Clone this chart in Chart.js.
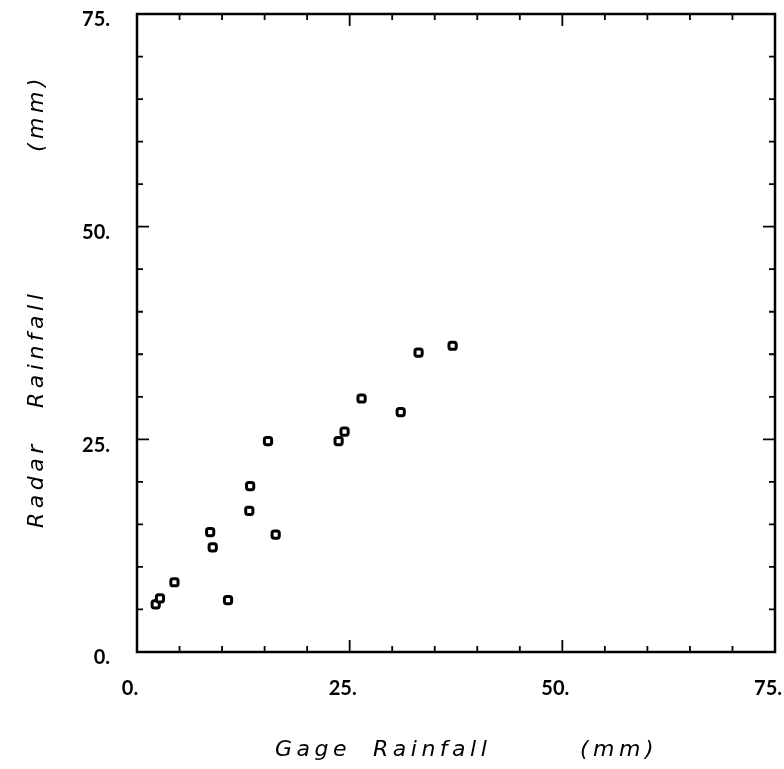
<!DOCTYPE html>
<html>
<head>
<meta charset="utf-8">
<script src="https://cdn.jsdelivr.net/npm/chart.js@4"></script>
<style>
  html, body { margin: 0; padding: 0; background: #fff; }
  #wrap { width: 784px; height: 769px; }
</style>
</head>
<body>
<div id="wrap"><canvas id="chart" width="784" height="769"></canvas></div>
<script>
// 雨量计 vs 雷达 降雨量
const gageRain = [2.2, 2.7, 4.4, 8.6, 8.9, 10.7, 13.2, 13.3, 15.4, 16.3, 23.7, 24.4, 26.4, 31.0, 33.1, 37.1];
const radarRain = [5.6, 6.3, 8.2, 14.1, 12.3, 6.1, 16.6, 19.5, 24.8, 13.8, 24.8, 25.9, 29.8, 28.2, 35.2, 36.0];
const tickValues = [0, 25, 50, 75];
const minorStep = 5;

const points = gageRain.map((x, i) => ({ x: x, y: radarRain[i] }));

// 坐标框、内向刻度、轴标题
const framePlugin = {
  id: 'frame',
  afterDraw(chart) {
    const ctx = chart.ctx;
    const a = chart.chartArea;
    const xs = chart.scales.x;
    const ys = chart.scales.y;
    ctx.save();
    ctx.strokeStyle = '#000';
    ctx.lineWidth = 2.5;
    ctx.strokeRect(a.left, a.top, a.right - a.left, a.bottom - a.top);

    ctx.lineWidth = 1.8;
    for (let v = minorStep; v < 75; v += minorStep) {
      const len = tickValues.includes(v) ? 12 : 6;
      const px = xs.getPixelForValue(v);
      const py = ys.getPixelForValue(v);
      ctx.beginPath();
      ctx.moveTo(px, a.bottom); ctx.lineTo(px, a.bottom - len);
      ctx.moveTo(px, a.top); ctx.lineTo(px, a.top + len);
      ctx.moveTo(a.left, py); ctx.lineTo(a.left + len, py);
      ctx.moveTo(a.right, py); ctx.lineTo(a.right - len, py);
      ctx.stroke();
    }

    ctx.fillStyle = '#000';
    ctx.font = 'italic 22px "DejaVu Sans"';
    ctx.letterSpacing = '4.5px';
    ctx.textBaseline = 'alphabetic';
    ctx.textAlign = 'left';
    // 横轴标题
    [['Gage', 138], ['Rainfall', 236], ['(mm)', 443]].forEach(([w, dx]) => {
      ctx.fillText(w, a.left + dx, 756);
    });
    // 纵轴标题
    ctx.translate(43, 0);
    ctx.rotate(-Math.PI / 2);
    [['Radar', 528], ['Rainfall', 408], ['(mm)', 152]].forEach(([w, y]) => {
      ctx.fillText(w, -y, 0);
    });
    ctx.restore();
  }
};

new Chart(document.getElementById('chart').getContext('2d'), {
  type: 'scatter',
  data: {
    datasets: [{
      data: points,
      pointStyle: 'rectRounded',
      radius: 4.2,
      hoverRadius: 4.2,
      borderWidth: 3,
      borderColor: '#000',
      backgroundColor: '#fff'
    }]
  },
  options: {
    responsive: false,
    animation: false,
    events: [],
    layout: { padding: { top: 14, right: 9, left: 0, bottom: 0 } },
    plugins: {
      legend: { display: false },
      tooltip: { enabled: false }
    },
    scales: {
      x: {
        type: 'linear',
        min: 0,
        max: 75,
        afterFit(scale) {
          scale.height = 117;
          scale.paddingLeft = 0;
          scale.paddingRight = 0;
        },
        afterBuildTicks(scale) { scale.ticks = tickValues.map(v => ({ value: v })); },
        grid: { display: false, drawTicks: false },
        border: { display: false },
        ticks: {
          padding: 25,
          labelOffset: -7,
          color: '#000',
          font: { family: 'Lato', weight: 'bold', size: 20 },
          callback: v => v + '.'
        }
      },
      y: {
        type: 'linear',
        min: 0,
        max: 75,
        afterFit(scale) {
          scale.width = 137;
          scale.paddingTop = 0;
          scale.paddingBottom = 0;
        },
        afterBuildTicks(scale) { scale.ticks = tickValues.map(v => ({ value: v })); },
        grid: { display: false, drawTicks: false },
        border: { display: false },
        ticks: {
          padding: 27,
          labelOffset: 6,
          color: '#000',
          font: { family: 'Lato', weight: 'bold', size: 20 },
          callback: v => v + '.'
        }
      }
    }
  },
  plugins: [framePlugin]
});
</script>
</body>
</html>
